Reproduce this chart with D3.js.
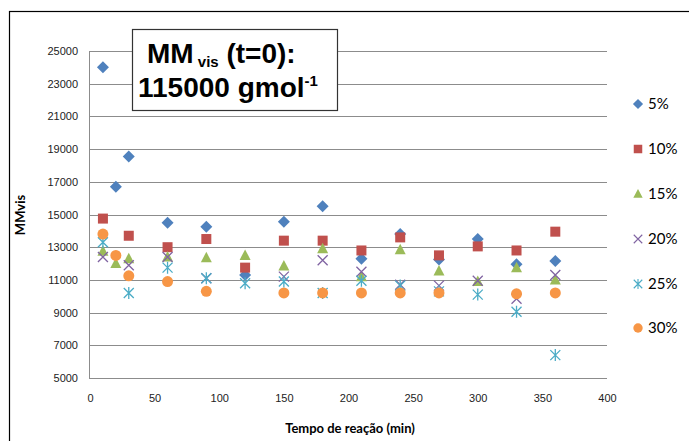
<!DOCTYPE html>
<html>
<head>
<meta charset="utf-8">
<script src="https://cdn.jsdelivr.net/npm/d3@7"></script>
<style>
  body { margin: 0; background: #fff; }
  svg { display: block; font-family: Lato, "Open Sans", sans-serif; }
</style>
</head>
<body>
<svg id="chart" width="689" height="441"></svg>
<script>
// data (time in min, MMvis)
const series_names = ["5%", "10%", "15%", "20%", "25%", "30%"];
const series_colors = ["#4F81BD", "#C0504D", "#9BBB59", "#8064A2", "#4BACC6", "#F79646"];
const series_shapes = ["diamond", "square", "triangle", "x", "star", "circle"];

const times_5 = [10, 20, 30, 60, 90, 120, 150, 180, 210, 240, 270, 300, 330, 360];
const values_5 = [24000, 16700, 18550, 14500, 14250, 11300, 14550, 15500, 12300, 13800, 12250, 13500, 11950, 12150];

const times_10 = [10, 30, 60, 90, 120, 150, 180, 210, 240, 270, 300, 330, 360];
const values_10 = [14750, 13700, 13000, 13500, 11750, 13400, 13400, 12800, 13600, 12500, 13050, 12800, 13950];

const times_15 = [10, 20, 30, 60, 90, 120, 150, 180, 210, 240, 270, 300, 330, 360];
const values_15 = [12750, 12000, 12300, 12400, 12350, 12500, 11850, 12900, 11200, 12850, 11550, 10900, 11750, 11000];

const times_20 = [10, 30, 60, 90, 150, 180, 210, 240, 270, 300, 330, 360];
const values_20 = [12400, 11900, 12400, 11100, 11200, 12200, 11500, 10700, 10650, 10950, 9850, 11300];

const times_25 = [10, 30, 60, 90, 120, 150, 180, 210, 240, 270, 300, 330, 360];
const values_25 = [13300, 10200, 11750, 11100, 10800, 10900, 10200, 10950, 10650, 10300, 10100, 9050, 6400];

const times_30 = [10, 20, 30, 60, 90, 150, 180, 210, 240, 270, 330, 360];
const values_30 = [13800, 12500, 11250, 10900, 10300, 10200, 10200, 10200, 10200, 10200, 10150, 10200];

const x_ticks = [0, 50, 100, 150, 200, 250, 300, 350, 400];
const y_ticks = [5000, 7000, 9000, 11000, 13000, 15000, 17000, 19000, 21000, 23000, 25000];

const all_times = [times_5, times_10, times_15, times_20, times_25, times_30];
const all_values = [values_5, values_10, values_15, values_20, values_25, values_30];

let chart = d3.select("#chart");

// outer frame of the chart
chart.append("rect")
    .attr("x", 9.5).attr("y", 11.5)
    .attr("width", 700).attr("height", 450)
    .attr("fill", "none")
    .attr("stroke", "#000")
    .attr("stroke-width", 1.2);

let x = d3.scaleLinear().domain([0, 400]).range([90, 607]);
let y = d3.scaleLinear().domain([5000, 25000]).range([378, 51]);

// gridlines
chart.append("g")
    .selectAll("line")
    .data(y_ticks)
    .enter()
    .append("line")
    .attr("x1", x(0)).attr("x2", x(400))
    .attr("y1", d => Math.round(y(d)) + 0.5)
    .attr("y2", d => Math.round(y(d)) + 0.5)
    .attr("stroke", "#8c8c8c")
    .attr("stroke-width", 1);

// y axis line
chart.append("line")
    .attr("x1", x(0) - 0.5).attr("x2", x(0) - 0.5)
    .attr("y1", y(25000)).attr("y2", y(5000) + 1)
    .attr("stroke", "#8c8c8c");

let yAxis = d3.axisLeft(y).tickValues(y_ticks).tickSize(0).tickPadding(12).tickFormat(d3.format("d"));
let yAxisGroup = chart.append("g")
    .attr("transform", "translate(" + x(0) + ",0)")
    .call(yAxis);
yAxisGroup.select(".domain").remove();
yAxisGroup.selectAll("text").style("font-size", "11px").style("fill", "#222");

let xAxis = d3.axisBottom(x).tickValues(x_ticks).tickSize(0).tickPadding(16);
let xAxisGroup = chart.append("g")
    .attr("transform", "translate(0," + y(5000) + ")")
    .call(xAxis);
xAxisGroup.select(".domain").remove();
xAxisGroup.selectAll("text").style("font-size", "11px").style("fill", "#222");

// axis titles
chart.append("text")
    .text("Tempo de reação (min)")
    .attr("x", 350).attr("y", 433)
    .style("font-size", "13px")
    .style("font-weight", "bold")
    .style("text-anchor", "middle")
    .style("fill", "#000");

chart.append("text")
    .text("MMvis")
    .attr("transform", "translate(25,215) rotate(-90)")
    .style("font-size", "13px")
    .style("font-weight", "bold")
    .style("text-anchor", "middle")
    .style("fill", "#000");

// markers
function drawMarker(g, shape, color, cx, cy) {
    if (shape === "diamond") {
        g.append("path")
            .attr("d", `M${cx},${cy - 6}L${cx + 6},${cy}L${cx},${cy + 6}L${cx - 6},${cy}Z`)
            .attr("fill", color);
    } else if (shape === "square") {
        g.append("rect")
            .attr("x", cx - 5).attr("y", cy - 5)
            .attr("width", 10).attr("height", 10)
            .attr("fill", color);
    } else if (shape === "triangle") {
        g.append("path")
            .attr("d", `M${cx},${cy - 6}L${cx + 5.5},${cy + 4.5}L${cx - 5.5},${cy + 4.5}Z`)
            .attr("fill", color);
    } else if (shape === "x") {
        g.append("path")
            .attr("d", `M${cx - 5},${cy - 5}L${cx + 5},${cy + 5}M${cx - 5},${cy + 5}L${cx + 5},${cy - 5}`)
            .attr("stroke", color).attr("stroke-width", 1.3).attr("fill", "none");
    } else if (shape === "star") {
        g.append("path")
            .attr("d", `M${cx - 5},${cy - 5}L${cx + 5},${cy + 5}M${cx - 5},${cy + 5}L${cx + 5},${cy - 5}M${cx},${cy - 6}L${cx},${cy + 6}`)
            .attr("stroke", color).attr("stroke-width", 1.3).attr("fill", "none");
    } else {
        g.append("circle")
            .attr("cx", cx).attr("cy", cy).attr("r", 5.5)
            .attr("fill", color);
    }
}

series_names.forEach(function(name, i) {
    let g = chart.append("g").attr("class", "series");
    all_times[i].forEach(function(t, j) {
        drawMarker(g, series_shapes[i], series_colors[i], x(t), y(all_values[i][j]));
    });
});

// legend
let legend_y = [104, 149, 194, 239, 284, 328];
series_names.forEach(function(name, i) {
    let g = chart.append("g");
    let shape = series_shapes[i];
    // legend markers are a little smaller
    let lg = g.append("g").attr("transform", "translate(638," + legend_y[i] + ") scale(0.85) translate(-638," + (-legend_y[i]) + ")");
    drawMarker(lg, shape, series_colors[i], 638, legend_y[i]);
    g.append("text")
        .text(name)
        .attr("x", 648).attr("y", legend_y[i] + 5)
        .style("font-size", "15px")
        .style("fill", "#000");
});

// title box
chart.append("rect")
    .attr("x", 132.5).attr("y", 29.5)
    .attr("width", 205).attr("height", 81)
    .attr("fill", "#fff")
    .attr("stroke", "#333")
    .attr("stroke-width", 1.2);

let t1 = chart.append("text")
    .attr("x", 147).attr("y", 63)
    .style("font-family", "'Liberation Sans', Arial, sans-serif")
    .style("font-weight", "bold")
    .style("font-size", "28px")
    .style("fill", "#000");
t1.append("tspan").text("MM");
t1.append("tspan").text(" vis").style("font-size", "15px").attr("dy", 4);
t1.append("tspan").text(" (t=0):").attr("dy", -4);

let t2 = chart.append("text")
    .attr("x", 138).attr("y", 97)
    .style("font-family", "'Liberation Sans', Arial, sans-serif")
    .style("font-weight", "bold")
    .style("font-size", "28px")
    .style("fill", "#000");
t2.append("tspan").text("115000 gmol");
t2.append("tspan").text("-1").style("font-size", "15px").attr("dy", -11);
</script>
</body>
</html>
